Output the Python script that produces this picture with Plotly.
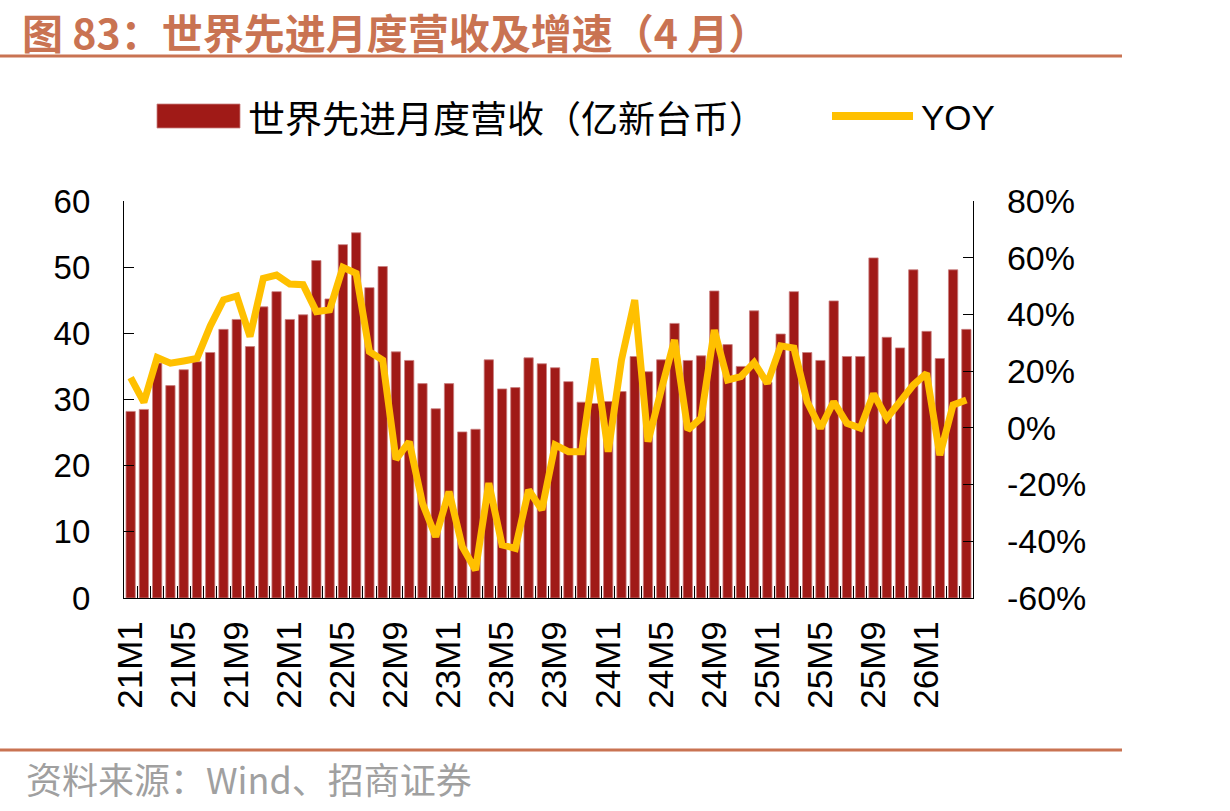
import plotly.graph_objects as go

# ---- data ----
months = [f"{y}M{m}" for y in range(21, 27) for m in range(1, 13)][:64]

revenue = [28.2, 28.5, 35.5, 32.1, 34.5, 35.7, 37.1, 40.6, 42.1, 38.0,
           44.0, 46.3, 42.1, 42.8, 51.0, 45.2, 53.4, 55.2, 46.9, 50.1,
           37.2, 35.9, 32.4, 28.6, 32.4, 25.1, 25.5, 36.0, 31.6, 31.8,
           36.3, 35.4, 34.8, 32.7, 29.6, 29.4, 29.7, 31.2, 36.5, 34.2,
           36.0, 41.5, 35.9, 36.6, 46.4, 38.3, 35.0, 43.4, 32.6, 39.9,
           46.3, 37.1, 35.9, 44.9, 36.5, 36.5, 51.4, 39.4, 37.8, 49.6,
           40.3, 36.2, 49.6, 40.6]

yoy = [17.7, 9.0, 24.8, 22.8, 23.6, 24.5, 35.9, 45.1, 46.5, 32.2,
       52.7, 53.9, 50.7, 50.5, 41.0, 41.6, 56.6, 54.5, 26.9, 23.9,
       -11.1, -4.9, -26.6, -38.4, -22.5, -41.9, -50.1, -19.5, -41.3, -42.5,
       -21.9, -28.9, -6.0, -8.4, -8.4, 24.5, -8.4, 23.9, 45.1, -4.9,
       13.4, 31.0, -0.7, 3.4, 34.5, 16.9, 18.1, 23.0, 15.7, 28.9,
       28.1, 9.2, -0.1, 9.2, 1.6, -0.1, 12.0, 3.4, 9.2, 15.1,
       19.2, -9.6, 8.1, 9.8]

bar_name = "世界先进月度营收（亿新台币）"
line_name = "YOY"
title_text = "图 83：世界先进月度营收及增速（4 月）"
source_text = "资料来源：Wind、招商证券"

left_ticks = [0, 10, 20, 30, 40, 50, 60]
right_ticks = [-60, -40, -20, 0, 20, 40, 60, 80]

# ---- styling ----
BAR_COLOR = "#A01A17"
LINE_COLOR = "#FFC000"
ACCENT = "#C97352"
W, H = 1230, 811
L, R, T, B = 124, 257, 201, 213
PW, PH = W - L - R, H - T - B
LATIN = "Liberation Sans, Arial, sans-serif"
CJK = "Noto Sans CJK SC, sans-serif"


def px(x):
    return (x - L) / PW


def py(y):
    return (H - B - y) / PH


xs = list(range(len(months)))

fig = go.Figure()
fig.add_trace(go.Bar(x=xs, y=revenue, name=bar_name, marker=dict(color=BAR_COLOR,
                     line=dict(color="#C98080", width=0.8)), showlegend=False))
fig.add_trace(go.Scatter(x=xs, y=yoy, name=line_name, mode="lines", yaxis="y2",
                         line=dict(color=LINE_COLOR, width=7), showlegend=False))

fig.update_layout(
    width=W, height=H, autosize=False,
    margin=dict(l=L, r=R, t=T, b=B),
    paper_bgcolor="white", plot_bgcolor="white",
    bargap=0.3,
    xaxis=dict(
        range=[-0.5, len(months) - 0.5],
        tickmode="array", tickvals=xs[::4], ticktext=months[::4],
        tickangle=-90, ticks="", showgrid=False, zeroline=False,
        showline=True, linecolor="black", linewidth=1.3,
        tickfont=dict(family=LATIN, size=35, color="black"),
        ticklabelstandoff=8,
        minor=dict(tickmode="array", tickvals=[i + 0.5 for i in xs[:-1]],
                   ticks="inside", ticklen=12, tickcolor="black", tickwidth=1.2,
                   showgrid=False),
    ),
    yaxis=dict(
        range=[0, 60], tickmode="array", tickvals=left_ticks,
        ticks="inside", ticklen=10, tickcolor="black",
        showgrid=False, zeroline=False,
        showline=True, linecolor="black", linewidth=1.3,
        tickfont=dict(family=LATIN, size=33, color="black"),
        ticklabelstandoff=26,
    ),
    yaxis2=dict(
        range=[-60, 80], tickmode="array", tickvals=right_ticks,
        ticktext=[f"{v}%" for v in right_ticks],
        overlaying="y", side="right",
        ticks="inside", ticklen=10, tickcolor="black",
        showgrid=False, zeroline=False,
        showline=True, linecolor="black", linewidth=1.3,
        tickfont=dict(family=LATIN, size=34, color="black"),
        ticklabelstandoff=26,
    ),
)

shapes = [
    # title underline
    dict(type="line", xref="paper", yref="paper", x0=px(0), x1=px(1122),
         y0=py(56), y1=py(56), line=dict(color=ACCENT, width=3)),
    # bottom rule
    dict(type="line", xref="paper", yref="paper", x0=px(0), x1=px(1122),
         y0=py(750), y1=py(750), line=dict(color=ACCENT, width=3)),
    # legend bar swatch
    dict(type="rect", xref="paper", yref="paper", x0=px(157), x1=px(240),
         y0=py(128), y1=py(104), fillcolor=BAR_COLOR, line=dict(color="#C98080", width=0.8)),
    # legend line swatch
    dict(type="line", xref="paper", yref="paper", x0=px(832), x1=px(913),
         y0=py(116), y1=py(116), line=dict(color=LINE_COLOR, width=8)),
]
fig.update_layout(shapes=shapes)

annotations = [
    dict(text=f"<b>{title_text}</b>", xref="paper", yref="paper", x=px(20), y=py(31),
         xanchor="left", yanchor="middle", showarrow=False,
         font=dict(family=CJK, size=41, color=ACCENT)),
    dict(text=bar_name, xref="paper", yref="paper", x=px(246), y=py(117),
         xanchor="left", yanchor="middle", showarrow=False,
         font=dict(family=CJK, size=37, color="black")),
    dict(text=line_name, xref="paper", yref="paper", x=px(919), y=py(117),
         xanchor="left", yanchor="middle", showarrow=False,
         font=dict(family=LATIN, size=35, color="black")),
    dict(text=source_text, xref="paper", yref="paper", x=px(24), y=py(778),
         xanchor="left", yanchor="middle", showarrow=False,
         font=dict(family=CJK, size=36, color="#A0A0A0")),
]
fig.update_layout(annotations=annotations)

fig.write_html("out.html")
